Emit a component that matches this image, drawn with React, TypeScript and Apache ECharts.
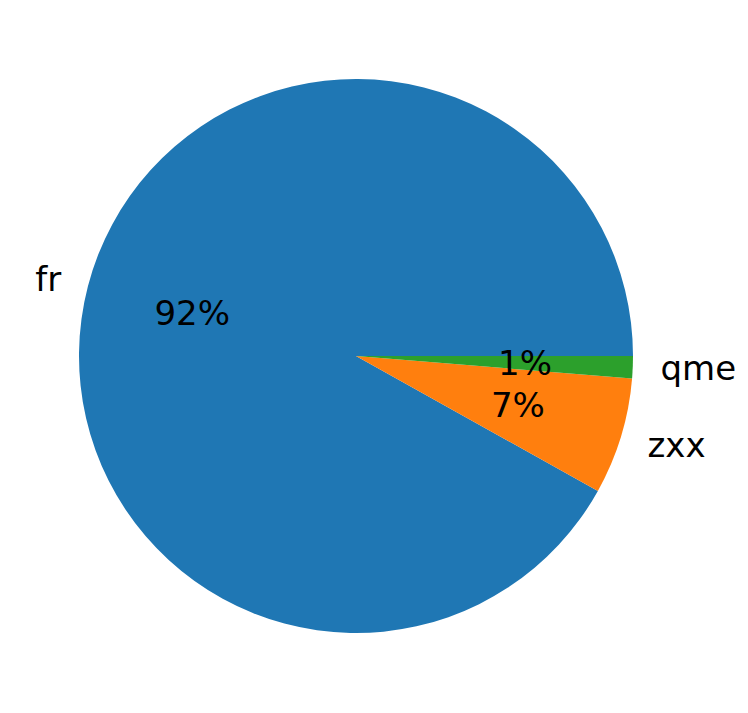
import React, { useEffect, useRef } from "react";
import * as echarts from "echarts";

const categories = ["fr", "zxx", "qme"];
const values = [91.9, 6.8, 1.3];
const colors = ["#1f77b4", "#ff7f0e", "#2ca02c"];

export default function App() {
  const ref = useRef<HTMLDivElement>(null);
  useEffect(() => {
    if (!ref.current) return;
    const chart = echarts.init(ref.current, null, { renderer: "svg" });
    const R = 277;
    const data = categories.map((c, i) => ({
      name: c,
      value: values[i],
      itemStyle: { color: colors[i] },
    }));
    const font = { fontFamily: "DejaVu Sans", fontSize: 34, color: "#000" };
    chart.setOption({
      animation: false,
      backgroundColor: "#fff",
      series: [
        {
          type: "pie",
          center: [356, 356],
          radius: [0, R],
          startAngle: 0,
          clockwise: false,
          avoidLabelOverlap: false,
          silent: true,
          data,
          itemStyle: { borderWidth: 0 },
          label: {
            show: true,
            position: "outside",
            formatter: "{b}",
            distanceToLabelLine: 0,
            ...font,
          },
          labelLine: { show: false, length: R * 0.1, length2: 0 },
        },
        {
          type: "pie",
          center: [356, 356],
          radius: [R * 0.2, R],
          startAngle: 0,
          clockwise: false,
          avoidLabelOverlap: false,
          silent: true,
          data: categories.map((c, i) => ({ name: c, value: values[i] })),
          itemStyle: { color: "rgba(0,0,0,0)", borderWidth: 0 },
          label: {
            show: true,
            position: "inside",
            formatter: (p: any) => Math.round(p.percent) + "%",
            ...font,
          },
          labelLine: { show: false },
        },
      ],
    });
    return () => chart.dispose();
  }, []);
  return (
    <div
      ref={ref}
      style={{ position: "fixed", left: 0, top: 0, width: 748, height: 713 }}
    />
  );
}
